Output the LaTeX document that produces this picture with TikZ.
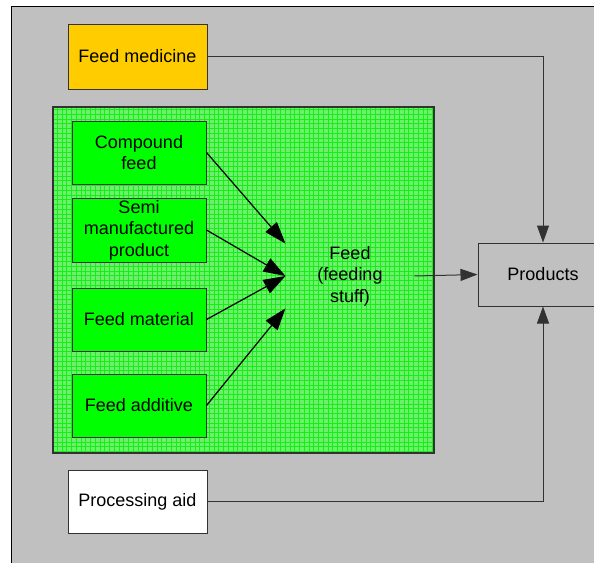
\documentclass[tikz,border=0pt]{standalone}
\usepackage{fontspec}
\setmainfont{Liberation Sans}
\usetikzlibrary{arrows.meta}
\definecolor{bggray}{RGB}{192,192,192}
\definecolor{medyellow}{RGB}{255,204,0}
\definecolor{boxgreen}{RGB}{0,255,0}
\definecolor{panelgreen}{RGB}{112,238,112}
\definecolor{gridgreen}{RGB}{20,240,20}
\definecolor{edge}{RGB}{50,50,50}
\tikzset{
  box/.style={draw=edge, line width=1pt, align=center, inner sep=2pt,
    font=\fontsize{18}{21.5}\selectfont},
  flow/.style={draw=black, line width=1.2pt,
    -{Triangle[length=22pt,width=15pt]}},
  link/.style={draw=edge, line width=1pt,
    -{Triangle[length=17pt,width=12pt]}},
}
\begin{document}
\begin{tikzpicture}[x=1pt,y=-1pt]
\useasboundingbox (0,0) rectangle (594,562);
\clip (0,0) rectangle (594,562);
% background sheet
\fill[white] (0,0) rectangle (594,562);
\draw[fill=bggray, line width=1pt, draw=black] (11,6) rectangle (610,580);
% green panel with fine grid
\fill[panelgreen] (53,107) rectangle (434,453);
\begin{scope}
  \clip (53,107) rectangle (434,453);
  \draw[gridgreen, line width=0.45pt, step=4.75pt] (53,107) grid (434,453);
\end{scope}
\draw[edge, line width=1.2pt] (53,107) rectangle (434,453);
% nodes
\node[box, fill=medyellow, minimum width=139pt, minimum height=65pt] (med) at (137.5,56.5) {Feed medicine};
\node[box, fill=boxgreen, minimum width=134pt, minimum height=63pt] (comp) at (139,152.5) {Compound\\feed};
\node[box, fill=boxgreen, minimum width=134pt, minimum height=64pt] (semi) at (139,230) {Semi\\manufactured\\product};
\node[box, fill=boxgreen, minimum width=134pt, minimum height=63pt] (mat) at (139,319.5) {Feed material};
\node[box, fill=boxgreen, minimum width=134pt, minimum height=63pt] (add) at (139,405.5) {Feed additive};
\node[box, fill=white, minimum width=139pt, minimum height=63pt] (aid) at (137.5,501.5) {Processing aid};
\node[box, fill=bggray, minimum width=130pt, minimum height=63pt] (prod) at (543,274.5) {Products};
\node[box, draw=none, minimum width=128pt, minimum height=52pt] (feed) at (350,276) {Feed\\(feeding\\stuff)};
% connectors
\draw[flow] (comp.east) -- (feed.north west);
\draw[flow] (semi.east) -- (feed.west);
\draw[flow] (mat.east) -- (feed.west);
\draw[flow] (add.east) -- (feed.south west);
\draw[link] (feed.east) -- (prod.west);
\draw[link] (med.east) -| (prod.north);
\draw[link] (aid.east) -| (prod.south);
\end{tikzpicture}
\end{document}
